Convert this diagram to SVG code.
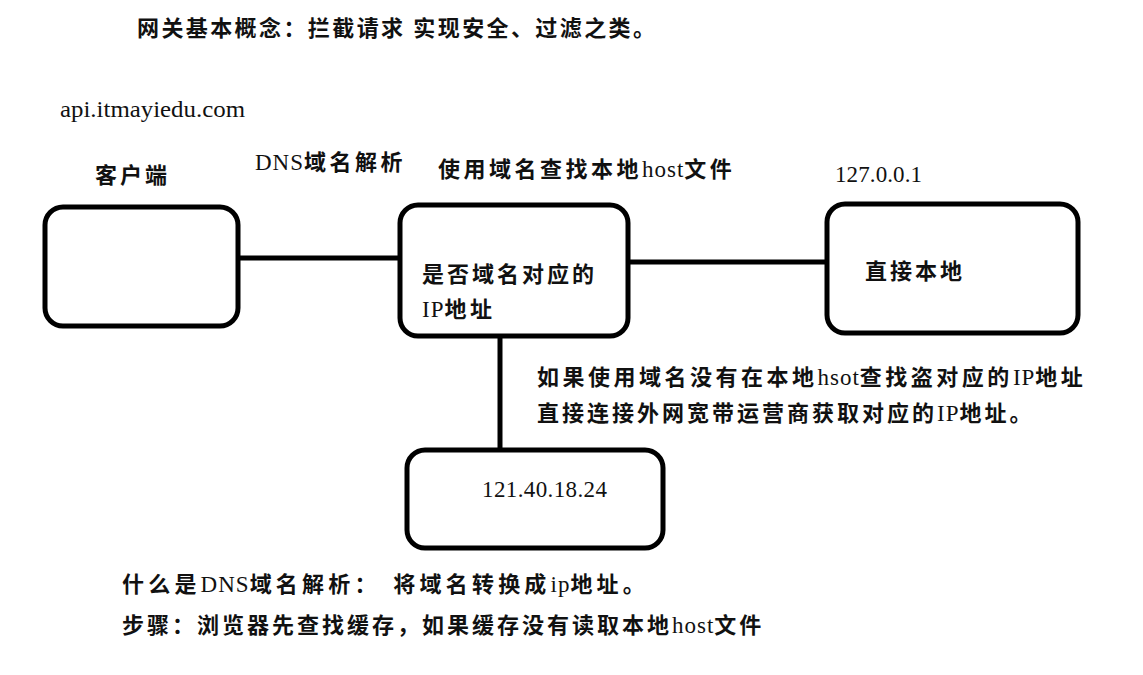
<svg xmlns="http://www.w3.org/2000/svg" width="1143" height="675" viewBox="0 0 1143 675">
<style>
.box{fill:#fff;stroke:#000;stroke-width:5}
.conn{stroke:#000;stroke-width:5;fill:none}
.t{font-family:"Liberation Serif","Noto Sans CJK SC",serif;font-size:22px;fill:#111}
.c{font-weight:bold;letter-spacing:3.5px}
.l{font-weight:normal;font-size:23px;letter-spacing:1px}
.n{font-size:23px}
</style>
<rect width="1143" height="675" fill="#fff"/>
<g id="texts">
<text class="t c" x="137" y="36" textLength="518" lengthAdjust="spacing" style="letter-spacing:0">网关基本概念：拦截请求 实现安全、过滤之类。</text>
<text class="t" x="60" y="117" textLength="185" lengthAdjust="spacingAndGlyphs" style="font-size:23px">api.itmayiedu.com</text>
<text class="t c" x="95" y="183" style="letter-spacing:3px">客户端</text>
<text class="t c" x="255" y="170"><tspan class="l">DNS</tspan>域名解析</text>
<text class="t c" x="438" y="177">使用域名查找本地<tspan class="l">host</tspan>文件</text>
<text class="t n" x="835" y="182" textLength="87" lengthAdjust="spacing">127.0.0.1</text>
<text class="t c" x="537" y="385">如果使用域名没有在本地<tspan class="l">hsot</tspan>查找盗对应的<tspan class="l">IP</tspan>地址</text>
<text class="t c" x="537" y="421" style="letter-spacing:3px">直接连接外网宽带运营商获取对应的<tspan class="l">IP</tspan>地址。</text>
<text class="t c" x="122" y="592" style="letter-spacing:4.2px">什么是<tspan class="l">DNS</tspan>域名解析： <tspan dx="3">将域名转换成</tspan><tspan class="l">ip</tspan>地址。</text>
<text class="t c" x="122" y="633" style="letter-spacing:3px">步骤：浏览器先查找缓存，如果缓存没有读取本地<tspan class="l">host</tspan>文件</text>
</g>
<g id="connectors">
<line class="conn" x1="238" y1="258" x2="400" y2="258"/>
<line class="conn" x1="628" y1="262" x2="827" y2="262"/>
<line class="conn" x1="500" y1="336" x2="500" y2="450"/>
</g>
<g id="node-client">
<rect class="box" x="45" y="207" width="193" height="119" rx="18"/>
</g>
<g id="node-lookup">
<rect class="box" x="400" y="205" width="228" height="131" rx="18"/>
<text class="t c" x="422" y="282" style="letter-spacing:3px">是否域名对应的</text>
<text class="t c" x="422" y="317"><tspan class="l">IP</tspan>地址</text>
</g>
<g id="node-local">
<rect class="box" x="827" y="204" width="251" height="129" rx="18"/>
<text class="t c" x="865" y="279" style="letter-spacing:3px">直接本地</text>
</g>
<g id="node-remote">
<rect class="box" x="407" y="450" width="256" height="98" rx="18"/>
<text class="t n" x="482" y="497" textLength="125" lengthAdjust="spacing">121.40.18.24</text>
</g>
</svg>
